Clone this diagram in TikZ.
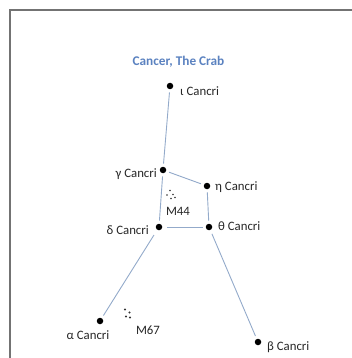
\documentclass[tikz,border=0pt]{standalone}
\usepackage{fontspec}
\setmainfont{Carlito}
\begin{document}
\begin{tikzpicture}[x=1pt,y=-1pt,
  star/.style={circle,fill=black,inner sep=0pt,minimum size=6.5pt},
  lbl/.style={font=\fontsize{12.8}{14}\selectfont,text=black!85,inner sep=0pt},
  link/.style={draw=linkc,line width=0.9pt,shorten <=3pt,shorten >=3pt},
  cl/.style={fill=black!80}]
\definecolor{linkc}{HTML}{93AACA}
\definecolor{titlec}{HTML}{5B82C0}
\useasboundingbox (0,0) rectangle (351,358);
\draw[draw=black!55,line width=1.2pt] (10,360) coordinate (fa) -- (10,10) coordinate (fb) -- (353,10) coordinate (fc);
\node[font=\fontsize{13.3}{15}\selectfont\bfseries,text=titlec,inner sep=0pt] (title) at (178.5,62) {Cancer, The Crab};
% stars
\node[star] (iota) at (170,86) {};
\node[star] (gamma) at (163,170) {};
\node[star] (eta) at (207,186) {};
\node[star] (delta) at (159,227) {};
\node[star] (theta) at (209,227) {};
\node[star] (alpha) at (100,321) {};
\node[star] (beta) at (258,342) {};
% labels
\node[lbl,anchor=west] (liota) at (180,91) {ι Cancri};
\node[lbl,anchor=east] (lgamma) at (157,174) {γ Cancri};
\node[lbl,anchor=west] (leta) at (215,187) {η Cancri};
\node[lbl,anchor=east] (ldelta) at (149,230) {δ Cancri};
\node[lbl,anchor=west] (ltheta) at (218,226) {θ Cancri};
\node[lbl] (lalpha) at (88,335) {α Cancri};
\node[lbl,anchor=west] (lbeta) at (267,347) {β Cancri};
\node[lbl] (lm44) at (178,211) {M44};
\node[lbl] (lm67) at (148,330) {M67};
% clusters
\foreach \p in {(170,190.5),(167,195),(173,194.5),(171,198.5),(175,197.5)} \fill[cl] \p circle (0.95);
\foreach \p in {(125,309.5),(129.5,312.5),(126,316.5),(130,317.5)} \fill[cl] \p circle (1.05);
% connectors
\draw[link] (iota) -- (gamma);
\draw[link] (gamma) -- (eta);
\draw[link] (gamma) -- (delta);
\draw[link] (eta) -- (theta);
\draw[link,shorten <=5pt,shorten >=3pt] (delta) -- (theta);
\draw[link,shorten <=6pt] (delta) -- (alpha);
\draw[link,shorten <=4pt] (theta) -- (beta);
\end{tikzpicture}
\end{document}
